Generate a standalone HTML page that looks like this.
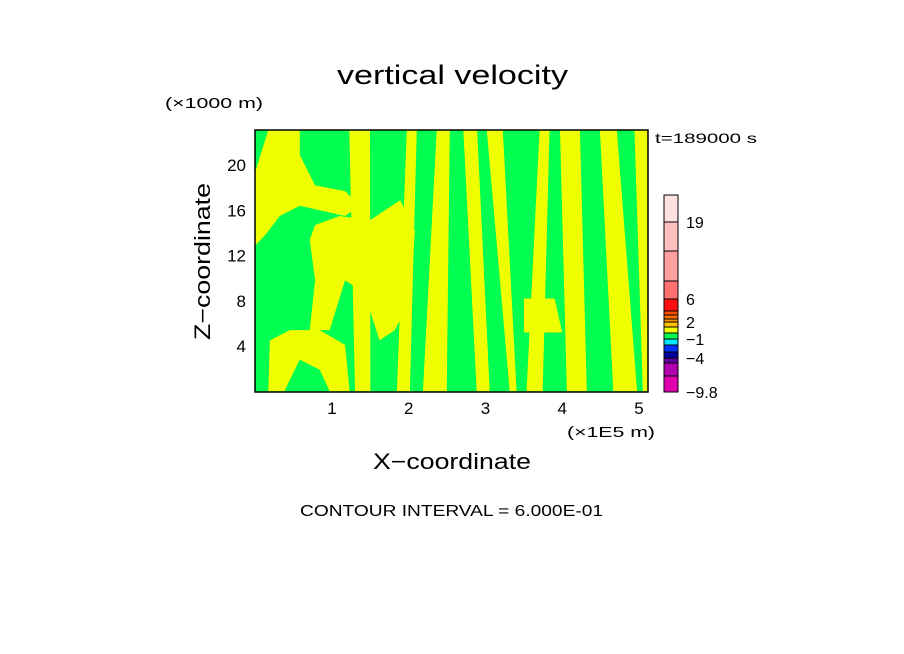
<!DOCTYPE html>
<html><head><meta charset="utf-8">
<style>
body{margin:0;background:#fff;}
svg{display:block;font-family:"Liberation Sans",sans-serif;}
</style></head>
<body>
<svg id="chart" width="904" height="654" viewBox="0 0 904 654">
  <text x="337" y="84" font-size="27" textLength="231" lengthAdjust="spacingAndGlyphs">vertical velocity</text>
  <text x="165" y="108" font-size="15" textLength="98" lengthAdjust="spacingAndGlyphs">(×1000 m)</text>
  <text x="655" y="143" font-size="14" textLength="102" lengthAdjust="spacingAndGlyphs">t=189000 s</text>
  <g id="field"></g>
  <rect x="255" y="130" width="393" height="262" fill="none" stroke="#000" stroke-width="1.5"/>
  <g id="yticks"></g>
  <g id="xticks"></g>
  <text x="567" y="437" font-size="15" textLength="88" lengthAdjust="spacingAndGlyphs">(×1E5 m)</text>
  <text x="373" y="469" font-size="22" textLength="158" lengthAdjust="spacingAndGlyphs">X−coordinate</text>
  <text transform="translate(210,340) rotate(-90)" font-size="22" textLength="157" lengthAdjust="spacingAndGlyphs">Z−coordinate</text>
  <g id="cbar"></g>
  <text x="300" y="516" font-size="16" textLength="303" lengthAdjust="spacingAndGlyphs">CONTOUR INTERVAL = 6.000E-01</text>
</svg>
<script>
// axis data
const xTicks=[1,2,3,4,5];
const zTicks=[4,8,12,16,20];
// yellow stripe features: [xTop, widthTop, xBottom, widthBottom] in 1E5 m
const stripeTopX=[1.36,2.04,2.45,2.80,3.12,3.77,4.10,4.60,5.03];
const stripeTopW=[0.27,0.13,0.17,0.18,0.21,0.13,0.26,0.22,0.18];
const stripeBotX=[1.40,1.93,2.34,2.97,3.36,3.64,4.19,4.82,5.10];
const stripeBotW=[0.20,0.17,0.31,0.17,0.09,0.21,0.26,0.31,0.10];
// yellow regions (x in 1E5 m, z in km)
const regionA=[[0,19.4],[0.17,23.1],[0.58,23.1],[0.58,20.9],[0.78,18.2],[1.17,17.7],[1.36,16.4],[1.17,15.5],[0.84,16.0],[0.58,16.4],[0.32,15.5],[0.13,13.8],[0,12.9]];
const regionB=[[0.78,14.7],[1.1,15.5],[1.49,15.1],[1.69,16.0],[1.89,16.9],[2.08,14.2],[2.02,8.1],[1.82,5.4],[1.62,4.5],[1.49,7.2],[1.36,9.0],[1.17,9.8],[0.97,5.4],[0.71,5.4],[0.78,9.8],[0.71,13.4]];
const regionC=[[0.19,4.5],[0.45,5.4],[0.84,5.4],[1.17,4.1],[1.23,0],[0.97,0],[0.84,1.9],[0.58,2.8],[0.45,1.0],[0.38,0],[0.17,0]];
const regionE=[[3.5,8.2],[3.9,8.2],[4.0,5.2],[3.5,5.2]];
const regions=[regionA,regionB,regionC,regionE];
// colorbar
const cbColors=["#ffe0e0","#ffc0c0","#ffa0a0","#ff7070","#ff1010","#ff5000","#ff7000","#ff9000","#ffc000","#f0ff00","#00ff50","#00e8ff","#0030ff","#0000a0","#6000a0","#b000b0","#e000b0"];
const cbSizes=[27,29,30,18,12,4,4,3,5,6,6,6,7,6,5,13,16];
const cbLabels=["19","6","2","−1","−4","−9.8"];
const cbLabelIdx=[1,4,8,11,14,17];

const NS="http://www.w3.org/2000/svg";
const X=v=>255.25+v*76.75;
const Z=v=>391.25-v*11.31;
function mk(tag,attrs,parent){const e=document.createElementNS(NS,tag);for(const k in attrs)e.setAttribute(k,attrs[k]);parent.appendChild(e);return e;}
const field=document.getElementById('field');
const clip=mk('clipPath',{id:'pc'},field);mk('rect',{x:255,y:130,width:393,height:262},clip);
const g=mk('g',{'clip-path':'url(#pc)'},field);
const bg=mk('rect',{x:255,y:130,width:393,height:262,fill:'#00ff50'},g);


regions.forEach((r,i)=>{
  const p=mk('polygon',{points:r.map(q=>X(q[0])+','+Z(q[1])).join(' '),fill:'#f0ff00'},g);
  
  
});
stripeTopX.forEach((t,i)=>{
  const zt=23.2,zb=0;
  const pts=[[t-stripeTopW[i]/2,zt],[t+stripeTopW[i]/2,zt],[stripeBotX[i]+stripeBotW[i]/2,zb],[stripeBotX[i]-stripeBotW[i]/2,zb]];
  const p=mk('polygon',{points:pts.map(q=>X(q[0])+','+Z(q[1])).join(' '),fill:'#f0ff00'},g);
  
  
});
const yt=document.getElementById('yticks');
zTicks.forEach(v=>{
  const t=mk('text',{x:246,y:Z(v)+6,'font-size':17,'text-anchor':'end'},yt);t.textContent=v;
  
  
});
const xt=document.getElementById('xticks');
xTicks.forEach(v=>{
  const t=mk('text',{x:X(v),y:414,'font-size':17,'text-anchor':'middle'},xt);t.textContent=v;
  
  
});
const cb=document.getElementById('cbar');
let y=392;
for(let i=cbColors.length-1;i>=0;i--){
  y-=cbSizes[i];
  const r=mk('rect',{x:664,y:y,width:14,height:cbSizes[i],fill:cbColors[i],stroke:'#000','stroke-width':1},cb);
  
  
}
let acc=195;const bounds=[195];cbSizes.forEach(s=>{acc+=s;bounds.push(acc);});
cbLabels.forEach((l,i)=>{
  const t=mk('text',{x:686,y:bounds[cbLabelIdx[i]]+6,'font-size':16},cb);t.textContent=l;
  
  
});
</script>
</body></html>
